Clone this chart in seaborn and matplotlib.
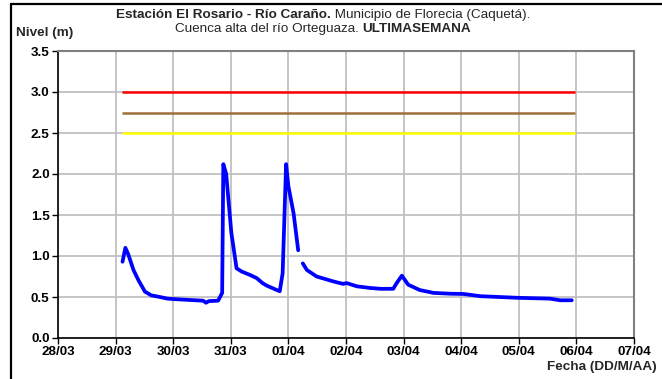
import numpy as np
import pandas as pd
import matplotlib
matplotlib.use("Agg")
import matplotlib.pyplot as plt
from matplotlib.lines import Line2D
import seaborn as sns

# ── Data (days since 28/03) ───────────────────────────────────────────────────
dias = [1.12, 1.17, 1.22, 1.31, 1.40, 1.51, 1.62, 1.77, 1.90, 2.00, 2.25, 2.52,
        2.57, 2.62, 2.78, 2.85, 2.87, 2.92, 3.01, 3.10, 3.19, 3.33, 3.45, 3.55,
        3.62, 3.75, 3.85, 3.90, 3.96, 4.00, 4.09, 4.17,
        4.25, 4.32, 4.49, 4.78, 4.95, 5.01, 5.19, 5.42, 5.60, 5.82, 5.88, 5.97,
        6.08, 6.28, 6.52, 6.81, 7.04, 7.33, 7.99, 8.54, 8.72, 8.92]
nivel = [0.93, 1.10, 1.02, 0.83, 0.70, 0.565, 0.52, 0.50, 0.48, 0.475, 0.465, 0.455,
         0.43, 0.45, 0.455, 0.55, 2.12, 2.00, 1.28, 0.85, 0.81, 0.77, 0.73, 0.67,
         0.64, 0.60, 0.57, 0.79, 2.12, 1.85, 1.52, 1.07,
         0.91, 0.83, 0.75, 0.69, 0.66, 0.67, 0.63, 0.61, 0.60, 0.60, 0.67, 0.76,
         0.65, 0.585, 0.55, 0.54, 0.537, 0.51, 0.49, 0.48, 0.46, 0.46]
tramo = [0] * 32 + [1] * 22  # gap in the record after 01/04

umbrales = [3.0, 2.75, 2.5]
umbral_colores = ["#FF0000", "#A0703C", "#FFFF00"]
umbral_inicio, umbral_fin = 1.11, 8.98

fechas = ["28/03", "29/03", "30/03", "31/03", "01/04", "02/04",
          "03/04", "04/04", "05/04", "06/04", "07/04"]
niveles_ticks = [0.0, 0.5, 1.0, 1.5, 2.0, 2.5, 3.0, 3.5]

df = pd.DataFrame({"dia": dias, "nivel": nivel, "tramo": tramo})

# ── Style ─────────────────────────────────────────────────────────────────────
sns.set_theme(style="whitegrid")
FS = 9.7
plt.rcParams.update({
    "font.family": ["Liberation Sans", "DejaVu Sans"],
    "font.size": FS,
    "grid.color": "#C0C0C0",
    "grid.linewidth": 1.3,
})

W, H = 662, 379
fig = plt.figure(figsize=(W / 100, H / 100), dpi=100)
ax = fig.add_axes([58 / W, 1 - 338 / H, (634 - 58) / W, (338 - 51) / H])

for y, c in zip(umbrales, umbral_colores):
    ax.hlines(y, umbral_inicio, umbral_fin, color=c, lw=1.8, zorder=3)

sns.lineplot(data=df, x="dia", y="nivel", units="tramo", estimator=None,
             color="#0000FF", lw=2.7, ax=ax, zorder=4)

ax.set_xlim(0, 10)
ax.set_ylim(0, 3.5)
ax.set_xticks(range(len(fechas)))
ax.set_xticklabels(fechas, fontweight="bold", fontsize=FS)
ax.set_yticks(niveles_ticks)
ax.set_yticklabels([f"{v:.1f}" for v in niveles_ticks], fontweight="bold", fontsize=FS)
ax.set_xlabel("")
ax.set_ylabel("")
ax.tick_params(axis="both", which="major", length=4, width=1, color="black",
               bottom=True, left=True, pad=2, labelcolor="black")
ax.grid(True, color="#C0C0C0", lw=1.3)
for side in ["left", "bottom"]:
    ax.spines[side].set_color("black")
    ax.spines[side].set_linewidth(1.2)
for side in ["top", "right"]:
    ax.spines[side].set_color("#808080")
    ax.spines[side].set_linewidth(1.5)

# ── Titles with mixed weight ──────────────────────────────────────────────────
renderer = fig.canvas.get_renderer()


def mixed_line(pieces, xc, yc):
    texts = [fig.text(0, 1 - yc / H, s, fontweight=w, fontsize=FS, va="center",
                      ha="left") for s, w in pieces]
    widths = [t.get_window_extent(renderer).width for t in texts]
    x = xc - sum(widths) / 2
    for t, w in zip(texts, widths):
        t.set_x(x / W)
        x += w


mixed_line([("Estación El Rosario - Río Caraño.", "bold"),
            (" Municipio de Florecia (Caquetá).", "normal")], 323, 15)
mixed_line([("Cuenca alta del río Orteguaza. ", "normal"),
            ("ULTIMASEMANA", "bold")], 323, 29)

fig.text(16 / W, 1 - 33 / H, "Nivel (m)", fontweight="bold", fontsize=FS,
         ha="left", va="center")
fig.text(657 / W, 1 - 367 / H, "Fecha (DD/M/AA)", fontweight="bold", fontsize=FS,
         ha="right", va="center")

# outer frame
fig.add_artist(Line2D([11 / W, 11 / W], [0, 1 - 4 / H], color="black", lw=1.6,
                      transform=fig.transFigure))
fig.add_artist(Line2D([11 / W, 1], [1 - 4 / H, 1 - 4 / H], color="black", lw=1.6,
                      transform=fig.transFigure))

fig.savefig("out.png", dpi=100)
